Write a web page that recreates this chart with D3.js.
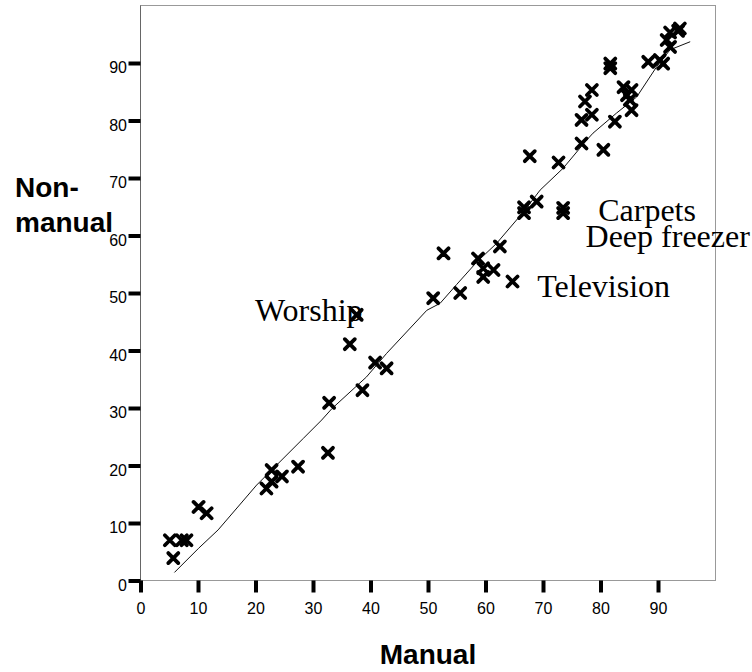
<!DOCTYPE html>
<html lang="en">
<head>
    <meta charset="UTF-8">
    <title>Manual vs Non-manual</title>
    <script src="https://d3js.org/d3.v7.min.js"></script>
    <style>
        body { margin: 0; background: #fff; }
        .tick text { font-family: "Liberation Sans", Arial, sans-serif; font-size: 16px; fill: #000; }
        .axis-title { font-family: "Liberation Sans", Arial, sans-serif; font-size: 28px; font-weight: bold; }
        .note { font-family: "Liberation Serif", "Times New Roman", serif; font-size: 32px; }
    </style>
</head>
<body>
<div id="myDiv"></div>
<script>
// data
let manual    = [5.1, 7.2, 8.0, 5.7, 10.1, 11.5, 21.9, 22.8, 22.8, 24.6, 27.4, 32.6, 32.8, 36.4, 37.6, 38.6, 40.8, 42.8,
                 50.9, 52.7, 55.6, 58.7, 59.6, 61.4, 59.6, 62.5, 64.7, 66.7, 66.7, 68.9, 67.7, 72.7, 73.5, 73.5,
                 76.7, 80.5, 76.7, 78.5, 77.3, 78.5, 82.5, 81.7, 81.7, 84.0, 85.4, 84.6, 85.1, 85.4,
                 88.3, 90.3, 90.9, 91.5, 92.1, 92.1, 93.5, 93.8];
let nonManual = [7.0, 7.0, 7.0, 3.9, 12.8, 11.7, 16.0, 19.2, 17.2, 18.1, 19.8, 22.2, 30.9, 41.1, 46.2, 33.1, 37.9, 36.9,
                 49.1, 56.9, 50.0, 56.0, 54.3, 54.0, 52.8, 58.1, 52.0, 64.9, 63.9, 65.9, 73.8, 72.7, 64.8, 63.9,
                 76.0, 74.9, 80.1, 81.0, 83.3, 85.3, 79.8, 89.9, 89.1, 85.8, 85.3, 84.4, 83.6, 81.8,
                 90.2, 90.5, 89.9, 94.0, 92.8, 95.3, 95.6, 96.0];

// fitted line
let fitX = [5.9, 10.1, 13.5, 20.2, 28.3, 31.5, 33.3, 39.3, 42.8, 49.8, 52.1, 55.0, 58.5, 61.9, 66.6, 69.5, 73.5, 77.6, 78.7, 82.8, 86.3, 89.8, 92.1, 95.6];
let fitY = [1.4, 5.6, 8.8, 16.6, 24.7, 27.9, 29.9, 35.4, 39.5, 47.0, 48.2, 51.5, 55.4, 58.6, 64.1, 67.9, 71.7, 76.6, 77.8, 81.3, 84.1, 89.4, 92.3, 93.7];

let xTicks = [0, 10, 20, 30, 40, 50, 60, 70, 80, 90];
let yTicks = [0, 10, 20, 30, 40, 50, 60, 70, 80, 90];

let noteText = ["Worship", "Television", "Carpets", "Deep freezer"];
let noteX    = [19.9, 69.0, 79.6, 77.4];
let noteY    = [45.2, 49.3, 62.6, 58.0];

let svg = d3.select("#myDiv").append("svg")
    .attr("width", 752)
    .attr("height", 672);

let x = d3.scaleLinear().domain([0, 100]).range([140.5, 715.5]);
let y = d3.scaleLinear().domain([0, 100]).range([580.5, 5.5]);

// frame
svg.append("rect")
    .attr("x", x(0)).attr("y", y(100))
    .attr("width", x(100) - x(0)).attr("height", y(0) - y(100))
    .attr("fill", "none").attr("stroke", "#999");
svg.append("line")
    .attr("x1", x(0)).attr("x2", x(0)).attr("y1", y(100)).attr("y2", y(0))
    .attr("stroke", "#666");

// axes
let xAxis = svg.append("g")
    .attr("transform", "translate(0," + y(0) + ")")
    .call(d3.axisBottom(x).tickValues(xTicks).tickSize(12).tickPadding(10));
let yAxis = svg.append("g")
    .attr("transform", "translate(" + x(0) + ",0)")
    .call(d3.axisLeft(y).tickValues(yTicks).tickSize(12).tickPadding(1.5));
yAxis.selectAll(".tick text").attr("dy", "0.62em");
svg.selectAll(".domain").remove();
svg.selectAll(".tick line").attr("stroke", "#000").attr("stroke-width", 4);

// fit line
let pts = fitX.map(function (d, i) { return [d, fitY[i]]; });
svg.append("path")
    .datum(pts)
    .attr("fill", "none")
    .attr("stroke", "#111")
    .attr("stroke-width", 1)
    .attr("d", d3.line().x(function (d) { return x(d[0]); }).y(function (d) { return y(d[1]); }));

// markers
let s = 5;
let marks = svg.selectAll("g.mark")
    .data(manual.map(function (d, i) { return [d, nonManual[i]]; }))
    .enter().append("g")
    .attr("class", "mark")
    .attr("transform", function (d) { return "translate(" + x(d[0]) + "," + y(d[1]) + ")"; });
marks.append("path")
    .attr("d", "M" + (-s) + "," + (-s) + "L" + s + "," + s + "M" + (-s) + "," + s + "L" + s + "," + (-s))
    .attr("stroke", "#000")
    .attr("stroke-width", 3.8)
    .attr("stroke-linecap", "round");

// annotations
svg.selectAll("text.note")
    .data(noteText)
    .enter().append("text")
    .attr("class", "note")
    .attr("x", function (d, i) { return x(noteX[i]); })
    .attr("y", function (d, i) { return y(noteY[i]); })
    .text(function (d) { return d; });

// axis titles
svg.append("text")
    .attr("class", "axis-title")
    .attr("x", (x(0) + x(100)) / 2)
    .attr("y", 664)
    .attr("text-anchor", "middle")
    .text("Manual");
let yt = svg.append("text")
    .attr("class", "axis-title")
    .attr("x", 15)
    .attr("y", 197);
yt.append("tspan").attr("x", 15).text("Non-");
yt.append("tspan").attr("x", 15).attr("dy", 35).text("manual");
</script>
</body>
</html>
